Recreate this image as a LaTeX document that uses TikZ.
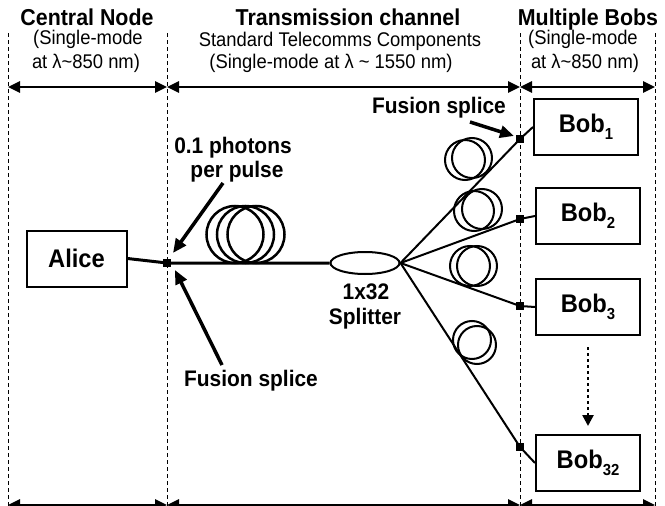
\documentclass[tikz,border=0pt]{standalone}
\usepackage{fontspec}
\setmainfont{Liberation Sans}[FakeStretch=0.93]
\usetikzlibrary{arrows.meta,shapes.geometric}
\newcommand\bobname[1]{Bob\raisebox{-7pt}{\fontsize{16}{16}\selectfont\bfseries #1}}
\newcommand\tld{\textasciitilde}
\begin{document}
\begin{tikzpicture}[x=1pt,y=-1pt,
  hdr/.style={font=\fontsize{23}{26}\selectfont\bfseries, anchor=base, inner sep=0},
  subhdr/.style={font=\fontsize{19.8}{22}\selectfont, anchor=base, inner sep=0},
  lbl/.style={font=\fontsize{22.5}{25}\selectfont\bfseries, anchor=base, inner sep=0},
  divider/.style={line width=0.8pt, dash pattern=on 4pt off 3pt},
  span/.style={line width=2.5pt, {Triangle[length=12pt,width=11pt]}-{Triangle[length=12pt,width=11pt]}},
  box/.style={draw, line width=2pt, minimum width=104pt, minimum height=56pt, inner sep=0, font=\fontsize{25.5}{28}\selectfont\bfseries},
  splice/.style={fill=black, minimum size=8pt, inner sep=0},
  fiber/.style={line width=3pt},
  branch/.style={line width=2pt},
  coil/.style={line width=2pt},
  pointer/.style={line width=3.5pt, -{Triangle[length=14pt,width=12pt]}},
]
\useasboundingbox (0,0) rectangle (665,506);
\clip (0,0) rectangle (665,506);

% column dividers
\coordinate (d0t) at (8,33);   \coordinate (d0b) at (8,506);
\coordinate (d1t) at (167,33); \coordinate (d1b) at (167,506);
\coordinate (d2t) at (520,33); \coordinate (d2b) at (520,506);
\coordinate (d3t) at (655,33); \coordinate (d3b) at (655,506);
\draw[divider] (d0t) -- (d0b);
\draw[divider] (d1t) -- (d1b);
\draw[divider] (d2t) -- (d2b);
\draw[divider] (d3t) -- (d3b);

% span arrows
\coordinate (a0) at (8,87);  \coordinate (a1) at (167,87);
\coordinate (a2) at (520,87); \coordinate (a3) at (655,87);
\draw[span] (a0) -- (a1);
\draw[span] (a1) -- (a2);
\draw[span] (a2) -- (a3);
\coordinate (b0) at (8,505);  \coordinate (b1) at (167,505);
\coordinate (b2) at (520,505); \coordinate (b3) at (655,505);
\draw[span] (b0) -- (b1);
\draw[span] (b1) -- (b2);
\draw[span] (b2) -- (b3);

% headers
\node[hdr] (h1) at (87,26) {Central Node};
\node[subhdr] (h1a) at (88,45) {(Single-mode};
\node[subhdr] (h1b) at (86,68) {at λ\tld850 nm)};
\node[hdr] (h2) at (348,26) {Transmission channel};
\node[subhdr] (h2a) at (340,46) {Standard Telecomms Components};
\node[subhdr] (h2b) at (331,68) {(Single-mode at λ \tld\ 1550 nm)};
\node[hdr] (h3) at (588,26) {Multiple Bobs};
\node[subhdr] (h3a) at (583,45) {(Single-mode};
\node[subhdr] (h3b) at (585,68) {at λ\tld850 nm)};

% devices
\node[box, minimum width=100pt] (alice) at (76.5,258.5) {Alice};
\node[draw, ellipse, line width=2pt, minimum width=69pt, minimum height=22pt, inner sep=0] (split) at (365,263) {};
\node[box] (bob1) at (586,127) {\bobname{1}};
\node[box] (bob2) at (588,216) {\bobname{2}};
\node[box] (bob3) at (588,307) {\bobname{3}};
\node[box] (bob32) at (588,463) {\bobname{32}};

% splices
\node[splice] (s0) at (167,263) {};
\node[splice] (s1) at (520,139) {};
\node[splice] (s2) at (520,219) {};
\node[splice] (s3) at (520,306) {};
\node[splice] (s32) at (520,447) {};

% main fibre and coil
\draw[fiber] (alice.east) -- (s0.center) -- (split.west);
\draw[line width=2.5pt] (235,234.5) circle[radius=28.5];
\draw[line width=2.5pt] (245.5,234.5) circle[radius=28.5];
\draw[line width=2.5pt] (256,234.5) circle[radius=28.5];

% branches
\draw[branch] (split.east) -- (s1.center) -- (bob1.west);
\draw[branch] (split.east) -- (s2.center) -- (bob2.west);
\draw[branch] (split.east) -- (s3.center) -- (bob3.west);
\draw[branch] (split.east) -- (s32.center) -- (bob32.west);

% branch coils
\draw[coil] (465,160) circle[radius=20];
\draw[coil] (472,158) circle[radius=20];
\draw[coil] (474,211) circle[radius=20];
\draw[coil] (482,209) circle[radius=20];
\draw[coil] (470,266) circle[radius=20];
\draw[coil] (477,266) circle[radius=20];
\draw[coil] (472,340) circle[radius=19];
\draw[coil] (477,345) circle[radius=19];

% labels
\node[lbl] (ph1) at (233,153) {0.1 photons};
\node[lbl] (ph2) at (237,177) {per pulse};
\coordinate (ph0) at (223,183); \coordinate (pht) at (173,253);
\draw[pointer] (ph0) -- (pht);

\node[lbl] (fs1) at (251,386) {Fusion splice};
\coordinate (fs1s) at (222,365); \coordinate (fs1t) at (175,270);
\draw[pointer] (fs1s) -- (fs1t);

\node[lbl] (fs2) at (439,113) {Fusion splice};
\coordinate (fs2s) at (470,122); \coordinate (fs2t) at (514,136);
\draw[pointer] (fs2s) -- (fs2t);

\node[lbl] (sp1) at (366,299) {1x32};
\node[lbl] (sp2) at (365,324) {Splitter};

% dotted continuation
\draw[line width=2.5pt, dash pattern=on 2.5pt off 3.5pt, -{Triangle[length=11pt,width=11pt]}] ([yshift=-11pt]bob3.south) -- ([yshift=8pt]bob32.north);
\end{tikzpicture}
\end{document}
